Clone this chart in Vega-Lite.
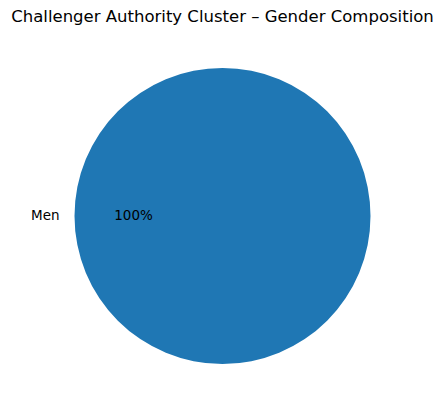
{
  "$schema": "https://vega.github.io/schema/vega-lite/v6.json",
  "width": 445,
  "height": 372,
  "autosize": "none",
  "padding": {"top": 30, "left": 0, "right": 0, "bottom": 9},
  "background": "white",
  "config": {"view": {"stroke": null}, "font": "DejaVu Sans"},
  "title": {"text": "Challenger Authority Cluster – Gender Composition", "fontSize": 16.5, "fontWeight": "normal", "font": "DejaVu Sans", "color": "black", "anchor": "middle", "offset": 5},
  "data": {"values": [{"gender": "Men", "count": 1, "label": "100%"}]},
  "encoding": {
    "theta": {"field": "count", "type": "quantitative", "stack": true, "scale": {"range": [1.5708, 7.854]}}
  },
  "layer": [
    {"mark": {"type": "arc", "outerRadius": 148, "color": "#1f77b4"}},
    {"mark": {"type": "text", "radius": 163, "align": "right", "baseline": "middle", "fontSize": 13.5, "color": "black", "font": "DejaVu Sans"}, "encoding": {"text": {"field": "gender"}}},
    {"mark": {"type": "text", "radius": 89, "align": "center", "baseline": "middle", "fontSize": 13.5, "color": "black", "font": "DejaVu Sans"}, "encoding": {"text": {"field": "label"}}}
  ]
}
